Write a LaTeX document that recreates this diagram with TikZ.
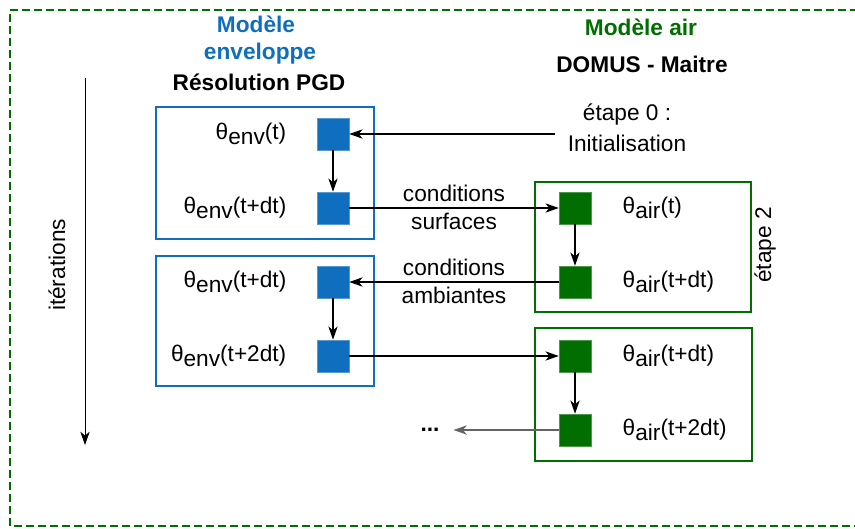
\documentclass[tikz,border=0pt]{standalone}
\usepackage{fontspec}
\setmainfont{Liberation Sans}
\usetikzlibrary{arrows.meta,positioning}
\definecolor{envblue}{RGB}{16,110,190}
\definecolor{airgreen}{RGB}{0,110,0}
\definecolor{dotgray}{RGB}{100,100,100}
\newcommand{\tsub}[1]{\raisebox{-0.45ex}{#1}}

\begin{document}
\begin{tikzpicture}[x=0.75pt,y=-0.75pt,
  font=\fontsize{17}{23}\selectfont,
  envsq/.style={draw=envblue!70, fill=envblue, minimum size=24pt, inner sep=0pt},
  airsq/.style={draw=airgreen!70, fill=airgreen, minimum size=24pt, inner sep=0pt},
  envbox/.style={draw=envblue, line width=1.5pt},
  airbox/.style={draw=airgreen, line width=1.5pt},
  arr/.style={-{Stealth[length=10pt,width=7pt,inset=3pt]}, line width=0.9pt},
  titre/.style={font=\fontsize{17}{20}\selectfont\bfseries}]

\useasboundingbox (0,0) rectangle (855,528);
% cadre du couplage
\draw[airgreen, line width=2.2pt, dash pattern=on 6pt off 3pt] (870,10) -- (10,10) -- (10,526) -- (870,526);

% titres des deux modeles
\node[titre, text=envblue] (titenv1) at (256,24) {Modèle};
\node[titre, text=envblue] (titenv2) at (260,54) {enveloppe};
\node[titre] (pgd) at (259,82) {Résolution PGD};
\node[titre, text=airgreen] (titair) at (641,27) {Modèle air};
\node[titre] (domus) at (642,64) {DOMUS - Maitre};

% axe des iterations
\coordinate (itop) at (85,78);
\coordinate (ibot) at (85,445);
\draw[arr, line width=0.7pt] (itop) -- (ibot);
\node[rotate=90] (iter) at (57,265) {itérations};

% blocs enveloppe et air
\draw[envbox] (156,107) rectangle (374,239);
\draw[envbox] (156,256) rectangle (374,386);
\draw[airbox] (535,182) rectangle (751,312);
\draw[airbox] (535,328) rectangle (752,461);

\node[envsq] (e1) at (333,134) {};
\node[envsq] (e2) at (333,208) {};
\node[envsq] (e3) at (333,282) {};
\node[envsq] (e4) at (333,356) {};
\node[airsq] (a1) at (575,208) {};
\node[airsq] (a2) at (575,282) {};
\node[airsq] (a3) at (575,356) {};
\node[airsq] (a4) at (575,430) {};

\node[anchor=east] (te1) at (291,134) {θ\tsub{env}(t)};
\node[anchor=east] (te2) at (291,208) {θ\tsub{env}(t+dt)};
\node[anchor=east] (te3) at (291,282) {θ\tsub{env}(t+dt)};
\node[anchor=east] (te4) at (291,356) {θ\tsub{env}(t+2dt)};
\node[anchor=west] (ta1) at (618,208) {θ\tsub{air}(t)};
\node[anchor=west] (ta2) at (618,282) {θ\tsub{air}(t+dt)};
\node[anchor=west] (ta3) at (618,356) {θ\tsub{air}(t+dt)};
\node[anchor=west] (ta4) at (618,430) {θ\tsub{air}(t+2dt)};

\node[rotate=90] (etape2) at (765,245) {étape 2};
\node[align=center] (init) at (627,128) {étape 0 :\\Initialisation};
\node[anchor=base, font=\fontsize{17}{20}\selectfont\bfseries] (dots) at (430,431) {...};

% echanges
\draw[arr] ([xshift=-6pt]init.west |- e1) -- (e1);
\draw[arr] (e1) -- (e2);
\draw[arr] (e2) -- (a1) node[midway, above, inner sep=4pt] {conditions}
                        node[midway, below, inner sep=3.5pt] {surfaces};
\draw[arr] (a1) -- (a2);
\draw[arr] (a2) -- (e3) node[midway, above, inner sep=4pt] {conditions}
                        node[midway, below, inner sep=3.5pt] {ambiantes};
\draw[arr] (e3) -- (e4);
\draw[arr] (e4) -- (a3);
\draw[arr] (a3) -- (a4);
\draw[arr, dotgray, line width=1.1pt] (a4) -- ([xshift=7pt]dots.east |- a4);
\end{tikzpicture}
\end{document}
